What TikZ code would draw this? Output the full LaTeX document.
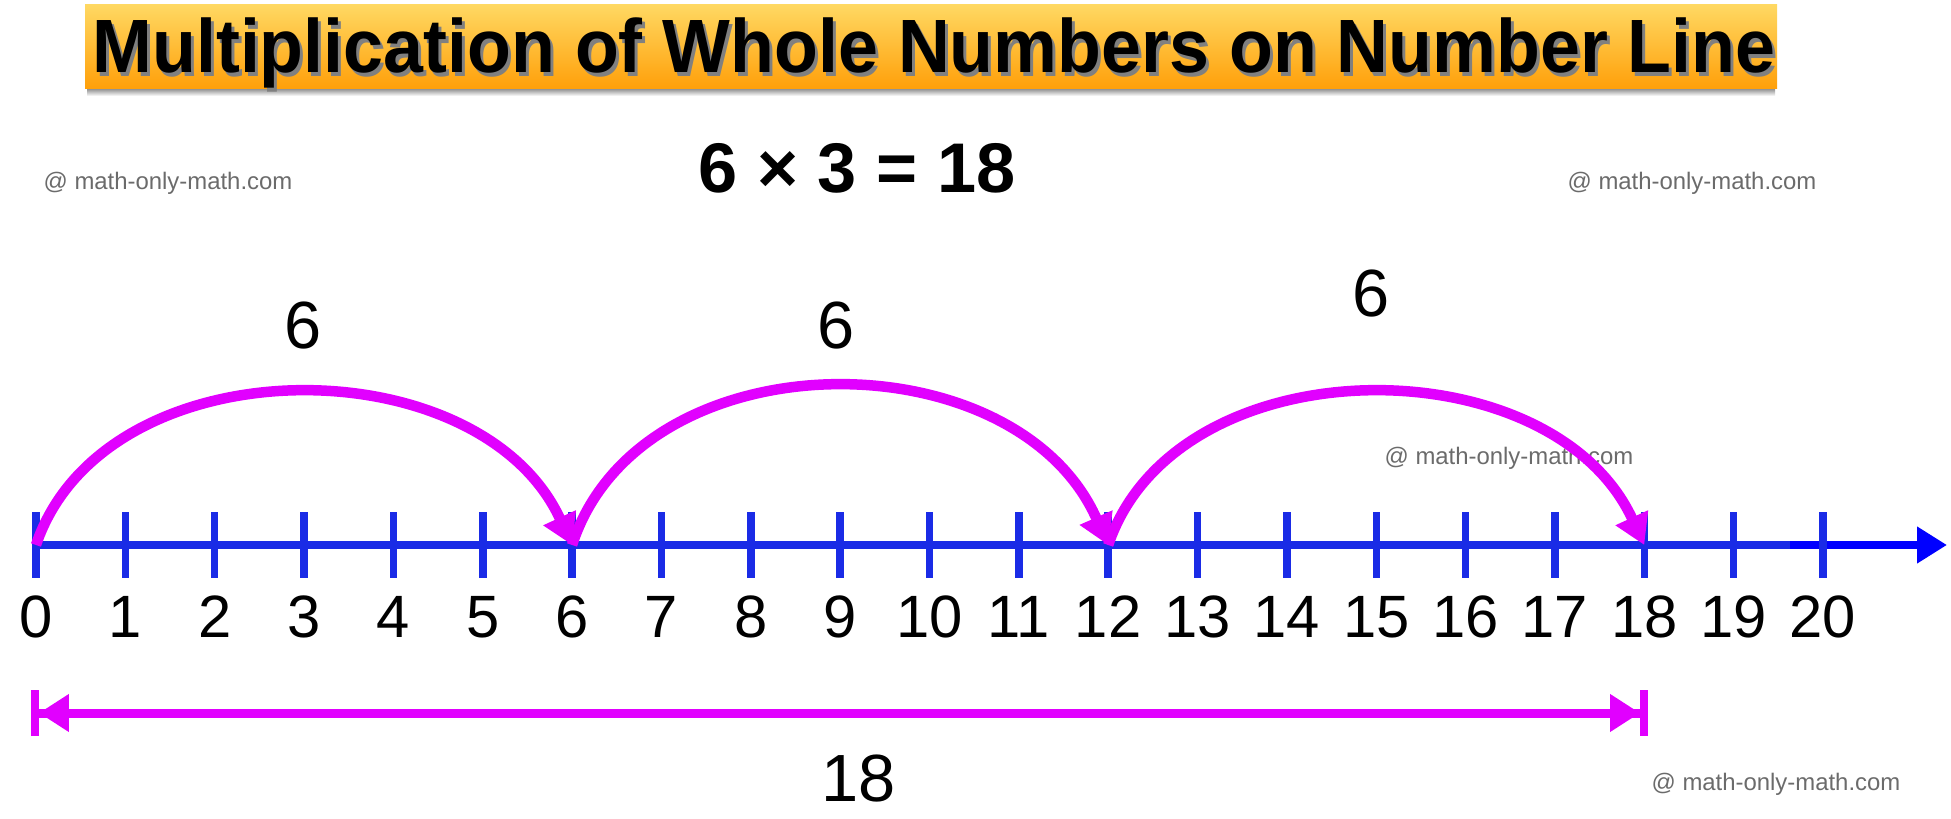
\documentclass[tikz,border=0pt]{standalone}
\usepackage{fontspec}
\setmainfont{Liberation Sans}
\newfontfamily\titlefont[FakeStretch=0.95]{Liberation Sans}
\usetikzlibrary{arrows.meta}

\definecolor{jumpmagenta}{HTML}{E100FF}
\definecolor{lineblue}{HTML}{1A2BE6}
\definecolor{tipblue}{HTML}{0000FF}
\definecolor{bannertop}{HTML}{FFD862}
\definecolor{bannerbottom}{HTML}{FFA00A}
\definecolor{markgray}{HTML}{6B6B6B}

\tikzset{
  titletext/.style={inner sep=0pt,anchor=base,font=\titlefont\bfseries\fontsize{21.5}{26}\selectfont},
  sumtext/.style={inner sep=0pt,font=\bfseries\fontsize{20}{24}\selectfont},
  watermark/.style={inner sep=0pt,text=markgray,font=\fontsize{6.8}{8}\selectfont},
  numlabel/.style={inner sep=0pt,font=\fontsize{17}{20}\selectfont},
  steplabel/.style={inner sep=0pt,font=\fontsize{19}{23}\selectfont},
  tickmark/.style={lineblue,line width=0.75mm},
  axis/.style={lineblue,line width=0.85mm},
  jump/.style={jumpmagenta,line width=1.05mm,-{Triangle[length=3mm,width=3.4mm]}},
  span/.style={jumpmagenta,line width=0.9mm,
    {Bar[width=4.6mm,line width=0.8mm]Triangle[length=3mm,width=3.6mm]}-{Triangle[length=3mm,width=3.6mm]Bar[width=4.6mm,line width=0.8mm]}}
}

\begin{document}
\begin{tikzpicture}[x=0.1mm,y=-0.1mm]
    \useasboundingbox (0,0) rectangle (1951,819);

    % banner
    \shade[top color=black!60,bottom color=white] (87,86) rectangle (1775,96);
    \shade[top color=bannertop,bottom color=bannerbottom] (85,5) rectangle (1777,88);
    \node[titletext,text=black!50] (titleshadow) at (937,76) {Multiplication of Whole Numbers on Number Line};
    \node[titletext] (title) at (934,72) {Multiplication of Whole Numbers on Number Line};

    \node[sumtext] (sum) at (857,168) {6 × 3 = 18};

    \node[watermark] (wm1) at (168,183) {@ math-only-math.com};
    \node[watermark] (wm2) at (1692,183) {@ math-only-math.com};
    \node[watermark] (wm3) at (1509,458) {@ math-only-math.com};
    \node[watermark] (wm4) at (1776,784) {@ math-only-math.com};

    % number line
    \foreach \i in {0,...,20}
        \coordinate (t\i) at ({36+89.35*\i},545);
    \coordinate (tailstart) at (1790,545);
    \coordinate (axisend) at (1947,545);
    \draw[axis] (t0) -- (1873,545);
    \draw[tipblue,line width=0.85mm,-{Triangle[length=3mm,width=3.5mm]}] (tailstart) -- (axisend);
    \foreach \i in {0,...,20} {
        \draw[tickmark] ({36+89.35*\i},512) -- ({36+89.35*\i},578);
        \node[numlabel] (n\i) at ({36+89.35*\i},617) {\i};
    }

    % jumps of 6
    \draw[jump] (t0) .. controls +(68,-202) and +(-93,-202) .. (t6);
    \draw[jump] (t6) .. controls +(68,-210) and +(-93,-210) .. (t12);
    \draw[jump] (t12) .. controls +(68,-202) and +(-93,-202) .. (t18);
    \node[steplabel] (j1) at (303,326) {6};
    \node[steplabel] (j2) at (836,326) {6};
    \node[steplabel] (j3) at (1371,294) {6};

    % total
    \coordinate (s0) at (31,713);
    \coordinate (s18) at (1648,713);
    \draw[span] (s0) -- (s18);
    \node[steplabel] (total) at (859,779) {18};
\end{tikzpicture}
\end{document}
